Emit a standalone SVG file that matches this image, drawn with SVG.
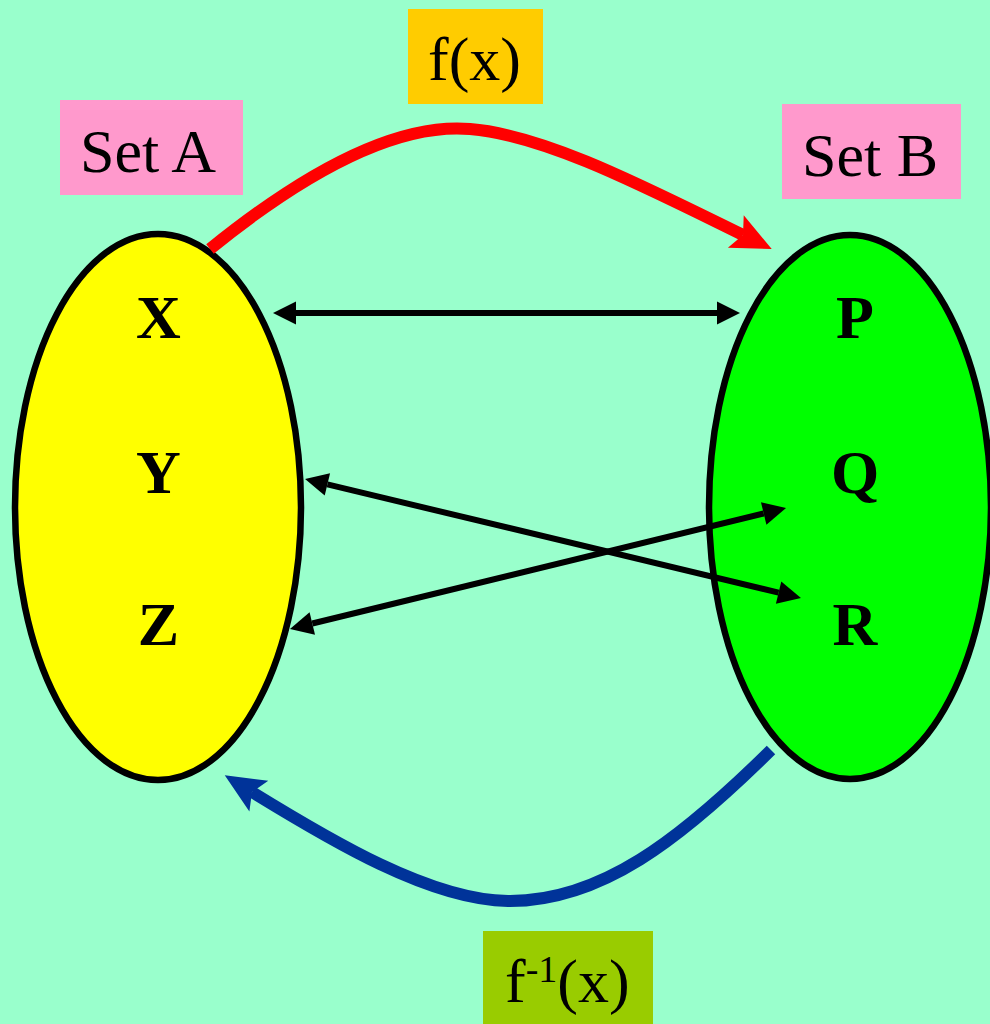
<svg xmlns="http://www.w3.org/2000/svg" width="990" height="1024" viewBox="0 0 990 1024">
<defs>
<style>
.lbl{font-family:"Liberation Serif","Times New Roman",serif;font-size:62px;fill:#000}
.el{font-family:"Liberation Serif","Times New Roman",serif;font-size:62px;font-weight:bold;fill:#000;text-anchor:middle}
.bk{stroke:#000;stroke-width:6;fill:none}
</style>
<marker id="ah" markerUnits="userSpaceOnUse" markerWidth="24" markerHeight="24" refX="0" refY="11.5" orient="auto-start-reverse" viewBox="0 0 24 24" overflow="visible">
<path d="M0,0 L23,11.5 L0,23 Z" fill="#000"/>
</marker>
<marker id="ahr" markerUnits="userSpaceOnUse" markerWidth="40" markerHeight="36" refX="8" refY="18" orient="auto" viewBox="0 0 40 36" overflow="visible">
<path d="M0,0 L40,18 L0,36 L8,18 Z" fill="#f00"/>
</marker>
<marker id="ahb" markerUnits="userSpaceOnUse" markerWidth="40" markerHeight="36" refX="8" refY="18" orient="auto" viewBox="0 0 40 36" overflow="visible">
<path d="M0,0 L40,18 L0,36 L8,18 Z" fill="#003399"/>
</marker>
</defs>
<rect width="990" height="1024" fill="#99FFCC"/>
<g id="setA">
<ellipse cx="158" cy="507" rx="143" ry="273" fill="#FFFF00" stroke="#000" stroke-width="6.5"/>
<text class="el" x="158.5" y="338">X</text>
<text class="el" x="158.5" y="493">Y</text>
<text class="el" x="158.5" y="645">Z</text>
</g>
<g id="setB">
<ellipse cx="850" cy="507" rx="141" ry="272" fill="#00FF00" stroke="#000" stroke-width="6.5"/>
<text class="el" x="855" y="338">P</text>
<text class="el" x="855" y="493">Q</text>
<text class="el" x="855" y="645">R</text>
</g>
<g id="labelA"><rect x="60" y="100" width="183" height="95" fill="#FF99CC"/><text class="lbl" x="80" y="172">Set A</text></g>
<g id="labelB"><rect x="782" y="104" width="179" height="95" fill="#FF99CC"/><text class="lbl" x="802" y="176">Set B</text></g>
<g id="labelF"><rect x="408" y="9" width="135" height="95" fill="#FFCC00"/><text class="lbl" x="428" y="80">f(x)</text></g>
<g id="labelFinv"><rect x="483" y="931" width="170" height="93" fill="#99CC00"/><text class="lbl" x="505" y="1002">f<tspan font-size="38" dy="-20">-1</tspan><tspan dy="20">(x)</tspan></text></g>
<g id="connectors">
<path d="M210,249 C310,168 400,123 470,129 C545,135 645,187 743,235" fill="none" stroke="#f00" stroke-width="12" marker-end="url(#ahr)"/>
<path d="M771,750 C680,840 600,902 508,901 C430,900 330,840 252,792" fill="none" stroke="#003399" stroke-width="12" marker-end="url(#ahb)"/>
<line class="bk" x1="296" y1="313" x2="717" y2="313" marker-start="url(#ah)" marker-end="url(#ah)"/>
<line class="bk" x1="327.4" y1="484.4" x2="778.6" y2="592.6" marker-start="url(#ah)" marker-end="url(#ah)"/>
<line class="bk" x1="312.3" y1="623.5" x2="763.7" y2="513.5" marker-start="url(#ah)" marker-end="url(#ah)"/>
</g>
</svg>
